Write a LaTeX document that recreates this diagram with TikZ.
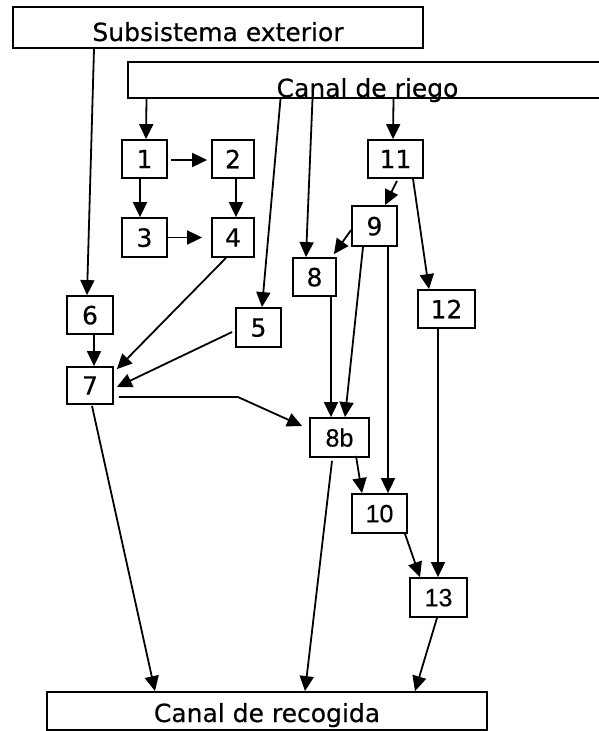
\documentclass[tikz,border=0pt]{standalone}
\usepackage{fontspec}
\setmainfont{DejaVu Sans}[FakeBold=0.4]
\newfontfamily\arialf{Liberation Sans}[FakeBold=0.4]
\usetikzlibrary{arrows.meta,calc}
\begin{document}
\begin{tikzpicture}[x=1pt,y=-1pt,
  bx/.style={draw,line width=1.8pt,inner sep=0pt,font=\fontsize{25}{25}\selectfont,text depth=0pt},
  big/.style={draw,line width=1.8pt,inner xsep=0pt,inner ysep=0pt,font=\fontsize{25}{25}\selectfont},
  ar/.style={line width=1.8pt,-{Triangle[length=15pt,width=14pt]}}]
\useasboundingbox (0,0) rectangle (598,731);
% big boxes
\node[big,minimum width=410pt,text height=34pt,text depth=7pt] (sub) at (218,27.5) {Subsistema exterior};
\node[big,minimum width=479pt,text height=35pt,text depth=1pt] (riego) at (367.5,80) {Canal de riego};
\node[big,minimum width=440pt,text height=30pt,text depth=8pt] (rec) at (267,711) {Canal de recogida};
% small boxes
\node[bx,minimum width=45pt,minimum height=38pt] (n1) at (144.5,159) {1};
\node[bx,minimum width=42pt,minimum height=38pt] (n2) at (233,159) {2};
\node[bx,minimum width=45pt,minimum height=39pt] (n3) at (144.5,237.5) {3};
\node[bx,minimum width=42pt,minimum height=39pt] (n4) at (233,237.5) {4};
\node[bx,minimum width=55pt,minimum height=38pt] (n11) at (395.5,159) {11};
\node[bx,minimum width=45pt,minimum height=40pt] (n9) at (374.5,226) {9};
\node[bx,minimum width=43pt,minimum height=38pt] (n8) at (314.5,277) {8};
\node[bx,minimum width=57pt,minimum height=38pt] (n12) at (446.5,309) {12};
\node[bx,minimum width=46pt,minimum height=38pt] (n6) at (90,315) {6};
\node[bx,minimum width=45pt,minimum height=39pt] (n5) at (258.5,327.5) {5};
\node[bx,minimum width=46pt,minimum height=37pt] (n7) at (90,385.5) {7};
\node[bx,minimum width=59pt,minimum height=39pt,font=\arialf\fontsize{25}{25}\selectfont] (n8b) at (339.5,437.5) {8b};
\node[bx,minimum width=55pt,minimum height=39pt,font=\arialf\fontsize{25}{25}\selectfont] (n10) at (379.5,513.5) {10};
\node[bx,minimum width=57pt,minimum height=39pt,font=\arialf\fontsize{25}{25}\selectfont] (n13) at (438.5,597.5) {13};
% connectors
\draw[ar] ($(sub.south)+(-124,0)$) -- ($(n6.north)+(-3,0)$);
\draw[ar] ($(riego.south)+(-221,0)$) -- ($(n1.north)+(1.5,0)$);
\draw[ar] ($(n1.east)+(3,1)$) -- ($(n2.west)+(-4,1)$);
\draw[ar] ($(n1.south)+(-4.5,0)$) -- ($(n3.north)+(-4.5,0)$);
\draw[ar] ($(n2.south)+(3,0)$) -- ($(n4.north)+(3,0)$);
\draw[ar] ($(n3.east)+(0,0)$) -- ($(n4.west)+(-9,0)$);
\draw[ar] ($(riego.south)+(-87,0)$) -- ($(n5.north)+(3.5,0)$);
\draw[ar] ($(riego.south)+(-55,0)$) -- ($(n8.north)+(-8.5,0)$);
\draw[ar] ($(riego.south)+(26,0)$) -- ($(n11.north)+(-2.5,0)$);
\draw[ar] ($(n11.south)+(1.5,2)$) -- ($(n9.north)+(10.5,0)$);
\draw[ar] ($(n11.south)+(17.5,0)$) -- ($(n12.north)+(-17.5,0)$);
\draw[ar] ($(n9.west)+(0,4)$) -- ($(n8.north east)+(-3,-3)$);
\draw[ar] ($(n9.south)+(-11.5,0)$) -- ($(n8b.north)+(5.5,0)$);
\draw[ar] ($(n9.south)+(13.5,0)$) -- ($(n10.north)+(8.5,0)$);
\draw[ar] ($(n8.south)+(16.5,0)$) -- ($(n8b.north)+(-8.5,0)$);
\draw[ar] ($(n6.south)+(4,0)$) -- ($(n7.north)+(4,0)$);
\draw[ar] ($(n4.south)+(-7,0)$) -- ($(n7.north east)+(3,3)$);
\draw[ar] ($(n5.west)+(-3,4.5)$) -- ($(n7.east)+(3,1.5)$);
\draw[ar] ($(n7.east)+(5,11.5)$) -- ++(119,0) -- ($(n8b.west)+(-7,-11.5)$);
\draw[ar] ($(n7.south)+(2,1)$) -- ($(rec.north)+(-112,0)$);
\draw[ar] ($(n8b.south)+(16.5,-2)$) -- ($(n10.north)+(-17.5,0)$);
\draw[ar] ($(n8b.south)+(-7.5,3)$) -- ($(rec.north)+(38,0)$);
\draw[ar] ($(n10.south)+(25.5,0)$) -- ($(n13.north)+(-18.5,0)$);
\draw[ar] ($(n12.south)+(-8.5,0)$) -- ($(n13.north)+(-0.5,0)$);
\draw[ar] ($(n13.south)+(-1.5,0)$) -- ($(rec.north)+(148,0)$);
\end{tikzpicture}
\end{document}
